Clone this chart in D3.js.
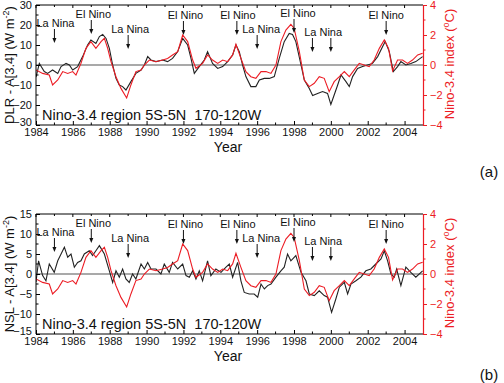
<!DOCTYPE html>
<html><head><meta charset="utf-8">
<script src="https://cdn.jsdelivr.net/npm/d3@7"></script>
<style>
body{margin:0;background:#fff}
svg{display:block}
text{font-family:"Liberation Sans",Arial,sans-serif}
</style></head>
<body><svg id="chart" width="504" height="383"></svg>
<script>
// ---------------- DATA ----------------
const xTicks = [1984,1986,1988,1990,1992,1994,1996,1998,2000,2002,2004];
const leftTicksA = [-30,-20,-10,0,10,20,30];
const leftTicksB = [-15,-10,-5,0,5,10,15];
const rightTicks = [-4,-2,0,2,4];

// DLR - A[3.4] (W m-2), panel (a)
const dlrSeries = [[1984.00,-6],[1984.18,0.8],[1984.45,-3.3],[1984.63,-4.2],[1984.90,-2.5],[1985.18,-4.2],[1985.36,-0.8],[1985.63,0.8],[1985.81,0],[1985.99,-2.5],[1986.26,-0.8],[1986.53,4.2],[1986.80,10],[1986.98,12.5],[1987.25,10.8],[1987.44,14.2],[1987.62,15.3],[1987.80,13.3],[1987.98,8.3],[1988.16,0],[1988.34,-6.7],[1988.52,-10],[1988.70,-10.8],[1988.88,-12.5],[1989.15,-8.3],[1989.42,-4.2],[1989.70,-2.5],[1989.88,0],[1990.06,4.2],[1990.24,2.5],[1990.51,1.7],[1990.87,2.5],[1991.14,1.7],[1991.41,3.3],[1991.69,6.7],[1991.96,13.3],[1992.23,10],[1992.41,3.3],[1992.59,-4.2],[1992.86,-0.8],[1993.13,2.5],[1993.31,6.7],[1993.58,0.8],[1993.86,-1.7],[1994.13,-0.8],[1994.40,1.7],[1994.67,5],[1994.85,10],[1995.03,6.7],[1995.21,0],[1995.39,-5.8],[1995.66,-10.8],[1995.93,-10.8],[1996.12,-7.5],[1996.39,-6.7],[1996.66,-6.7],[1996.93,-5.8],[1997.20,3.3],[1997.47,11.7],[1997.74,15.8],[1997.92,15.3],[1998.10,11.7],[1998.38,0],[1998.56,-7.5],[1998.83,-11.7],[1999.01,-15.3],[1999.28,-14.2],[1999.55,-13.3],[1999.82,-14.2],[2000.00,-19.7],[2000.18,-15],[2000.37,-10],[2000.55,-5],[2000.82,-8.3],[2001.00,-10.8],[2001.18,-5.8],[2001.45,-1.7],[2001.72,-0.8],[2001.99,0],[2002.26,0.8],[2002.54,4.2],[2002.81,9.2],[2002.95,11.7],[2003.17,6.7],[2003.39,-3.3],[2003.62,-0.8],[2003.80,1.7],[2004.07,0],[2004.34,0.8],[2004.61,1.7],[2004.98,4.2]];

// NSL - A[3.4] (W m-2), panel (b)
const nslSeries = [[1984.00,-2],[1984.14,3.3],[1984.36,-0.4],[1984.54,-1.7],[1984.72,2.5],[1984.99,0.4],[1985.18,3.3],[1985.36,5],[1985.54,6.7],[1985.72,4.2],[1985.90,5],[1986.08,1.7],[1986.26,2.9],[1986.44,3.3],[1986.62,5],[1986.89,5.8],[1987.07,4.6],[1987.25,5.8],[1987.44,7.1],[1987.71,5],[1987.98,0.8],[1988.16,-2.1],[1988.34,0.8],[1988.52,-0.8],[1988.70,1.25],[1988.88,-1.25],[1989.06,-2.1],[1989.24,0],[1989.42,-1.25],[1989.70,2.5],[1989.88,1.25],[1990.06,2.9],[1990.24,1.25],[1990.51,1.25],[1990.78,0],[1990.96,2.5],[1991.23,0.4],[1991.41,2.9],[1991.69,1.25],[1991.96,2.5],[1992.14,-0.4],[1992.32,-0.8],[1992.50,0.8],[1992.68,-1.25],[1992.86,0.8],[1993.04,-1.7],[1993.31,3.3],[1993.49,-0.4],[1993.76,1.25],[1994.04,0.4],[1994.31,1.7],[1994.49,2.5],[1994.67,-0.8],[1994.94,2.9],[1995.12,-1.7],[1995.30,-4.6],[1995.57,-5],[1995.84,-5],[1996.03,-5.8],[1996.21,-2.5],[1996.39,-3.75],[1996.57,-2.9],[1996.75,-2.5],[1997.02,-0.8],[1997.29,0.8],[1997.47,1.7],[1997.65,5],[1997.83,3.3],[1998.10,4.6],[1998.38,0.4],[1998.65,-1.7],[1998.83,-5],[1999.10,-5.4],[1999.37,-4.2],[1999.64,-5.4],[1999.82,-5.8],[2000.04,-9.6],[2000.27,-6.25],[2000.46,-3.3],[2000.73,-2.1],[2000.91,-5],[2001.09,-2.5],[2001.36,-1.7],[2001.63,-0.8],[2001.90,0.8],[2002.17,1.25],[2002.44,2.5],[2002.72,3.75],[2002.90,5.8],[2003.08,3.3],[2003.26,0],[2003.44,-0.8],[2003.57,1.25],[2003.80,-2.9],[2004.07,1.7],[2004.34,0.4],[2004.61,-0.8],[2004.98,0.8]];

// Nino-3.4 index (deg C), both panels
const nino34 = [[1984.00,-0.33],[1984.36,-0.56],[1984.72,-0.67],[1984.90,-1.33],[1985.18,-1.0],[1985.45,-0.44],[1985.72,-0.56],[1985.99,-0.44],[1986.17,-0.67],[1986.44,0.11],[1986.71,1.11],[1986.98,1.56],[1987.25,1.11],[1987.53,1.56],[1987.71,1.78],[1987.89,1.11],[1988.07,0.22],[1988.34,-0.78],[1988.61,-1.56],[1988.92,-2.2],[1989.15,-1.33],[1989.42,-0.44],[1989.70,-0.33],[1989.88,0],[1990.15,0.33],[1990.51,0.22],[1990.87,0.33],[1991.14,0.44],[1991.41,0.67],[1991.69,0.89],[1991.96,2.0],[1992.23,1.56],[1992.50,0.33],[1992.68,-0.22],[1993.04,0.11],[1993.31,0.67],[1993.58,0.33],[1993.86,0.11],[1994.13,0.33],[1994.40,0.22],[1994.67,0.67],[1994.85,1.38],[1995.12,0.44],[1995.39,-0.44],[1995.66,-0.78],[1995.93,-0.89],[1996.21,-0.44],[1996.48,-0.44],[1996.75,-0.56],[1997.02,0],[1997.29,1.56],[1997.56,2.33],[1997.83,2.71],[1998.01,2.44],[1998.29,0.89],[1998.56,-1.0],[1998.83,-1.44],[1999.10,-1.22],[1999.37,-0.78],[1999.64,-0.89],[1999.91,-1.78],[2000.18,-1.11],[2000.46,-0.78],[2000.73,-0.44],[2001.00,-0.78],[2001.27,-0.33],[2001.54,0.11],[2001.81,0],[2002.08,-0.11],[2002.35,0.33],[2002.63,1.11],[2002.90,1.67],[2003.13,1.11],[2003.35,-0.4],[2003.62,0.33],[2003.89,0.33],[2004.16,0.11],[2004.43,0.33],[2004.71,0.67],[2004.98,0.78]];

const annoLabels = ["La Nina","El Nino","La Nina","El Nino","El Nino","La Nina","El Nino","La Nina","El Nino"];
const annoYears = [[1985],[1987],[1989],[1992],[1994.9],[1996],[1998],[1999,2000],[2003]];

// ---------------- LAYOUT / STYLE ----------------
const annoTextY = [18,9,24,10,10,24,8,27,10];
const annoTextDx = [1,2,2,2,1,4,4,1.5,0];
const RED = "#ec1c24";
const panels = [
  {top:5, left:36, right:423, h:120, series:dlrSeries, domain:[-30,30], ticks:leftTicksA, minor:5,
   title:"DLR - A[3.4] (W m", tag:"(a)", tagY:177},
  {top:214, left:36, right:423, h:120, series:nslSeries, domain:[-15,15], ticks:leftTicksB, minor:2.5,
   title:"NSL - A[3.4] (W m", tag:"(b)", tagY:380}
];

const svg = d3.select("#chart");

panels.forEach((p,pi)=>{
  const x = d3.scaleLinear().domain([1984,2005]).range([p.left,p.right]);
  const y = d3.scaleLinear().domain(p.domain).range([p.top+p.h,p.top]);
  const yr = d3.scaleLinear().domain([-4,4]).range([p.top+p.h,p.top]);
  const g = svg.append("g");
  const clipId = "clip"+pi;
  svg.append("clipPath").attr("id",clipId).append("rect")
    .attr("x",p.left).attr("y",p.top).attr("width",p.right-p.left).attr("height",p.h);

  // zero line
  g.append("line").attr("x1",p.left).attr("x2",p.right).attr("y1",y(0)).attr("y2",y(0))
    .attr("stroke","#555").attr("stroke-width",1.1);

  // series
  const lineL = d3.line().x(d=>x(d[0])).y(d=>y(d[1]));
  const lineR = d3.line().x(d=>x(d[0])).y(d=>yr(d[1]));
  g.append("path").datum(p.series).attr("d",lineL).attr("fill","none")
    .attr("stroke","#222").attr("stroke-width",1.1).attr("clip-path",`url(#${clipId})`);
  g.append("path").datum(nino34).attr("d",lineR).attr("fill","none")
    .attr("stroke",RED).attr("stroke-width",1.1).attr("clip-path",`url(#${clipId})`);

  // frame: top, left, bottom black
  g.append("line").attr("x1",p.left).attr("x2",p.right).attr("y1",p.top).attr("y2",p.top).attr("stroke","#000");
  g.append("line").attr("x1",p.left).attr("x2",p.right).attr("y1",p.top+p.h).attr("y2",p.top+p.h).attr("stroke","#000");
  g.append("line").attr("x1",p.left).attr("x2",p.left).attr("y1",p.top).attr("y2",p.top+p.h).attr("stroke","#000");

  // bottom axis
  const xAxis = d3.axisBottom(x).tickValues(xTicks).tickFormat(d3.format("d")).tickSize(-4).tickPadding(3);
  const ax = g.append("g").attr("transform",`translate(0,${p.top+p.h})`).call(xAxis);
  ax.select(".domain").remove();
  ax.selectAll("text").attr("font-size",11).attr("font-family","Liberation Sans, Arial").attr("fill","#111");
  const minorYears = d3.range(1985,2005,2);
  g.selectAll(null).data(minorYears).enter().append("line")
    .attr("x1",d=>x(d)).attr("x2",d=>x(d)).attr("y1",p.top+p.h).attr("y2",p.top+p.h-2.5).attr("stroke","#000");
  // top ticks
  g.selectAll(null).data(d3.range(1984,2005)).enter().append("line")
    .attr("x1",d=>x(d)).attr("x2",d=>x(d)).attr("y1",p.top).attr("y2",d=>p.top+((d%2===0)?3:2)).attr("stroke","#000");

  // left axis
  const yAxis = d3.axisLeft(y).tickValues(p.ticks).tickSize(-4).tickPadding(4);
  const ay = g.append("g").attr("transform",`translate(${p.left},0)`).call(yAxis);
  ay.select(".domain").remove();
  ay.selectAll("text").attr("font-size",11).attr("font-family","Liberation Sans, Arial").attr("fill","#111")
    .attr("dy",d=>d===p.domain[0]?"0.0em":"0.32em");
  const minorL = d3.range(p.domain[0], p.domain[1]+0.001, p.minor).filter(v=>!p.ticks.includes(v));
  g.selectAll(null).data(minorL).enter().append("line")
    .attr("x1",p.left).attr("x2",p.left+2.5).attr("y1",d=>y(d)).attr("y2",d=>y(d)).attr("stroke","#000");

  // right axis (red)
  const rAxis = d3.axisRight(yr).tickValues(rightTicks).tickSize(4).tickPadding(3);
  const ar = g.append("g").attr("transform",`translate(${p.right},0)`).call(rAxis);
  ar.select(".domain").attr("stroke",RED).attr("stroke-width",1.2);
  ar.selectAll("line").attr("stroke",RED);
  ar.selectAll("text").attr("font-size",11).attr("font-family","Liberation Sans, Arial").attr("fill",RED);
  g.selectAll(null).data([-3,-1,1,3]).enter().append("line")
    .attr("x1",p.right).attr("x2",p.right+2.5).attr("y1",d=>yr(d)).attr("y2",d=>yr(d)).attr("stroke",RED);

  // region label
  g.append("text").attr("x",p.left+6).attr("y",p.top+p.h-5)
    .attr("font-size",14.5).attr("fill","#111").style("white-space","pre")
    .text("Nino-3.4 region 5S-5N\u00a0\u00a0170-120W");

  // Year label
  g.append("text").attr("x",228).attr("y",p.top+p.h+27).attr("text-anchor","middle")
    .attr("font-size",14).attr("fill","#111").text("Year");

  // left title
  const lt = g.append("text").attr("transform",`translate(14,${p.top+p.h/2}) rotate(-90)`)
    .attr("text-anchor","middle").attr("font-size",13).attr("fill","#111");
  lt.append("tspan").text(p.title);
  lt.append("tspan").attr("dy",-5).attr("font-size",9).text("-2");
  lt.append("tspan").attr("dy",5).text(")");

  // right title
  const rt = g.append("text").attr("transform",`translate(454,${p.top+p.h/2-1}) rotate(-90)`)
    .attr("text-anchor","middle").attr("font-size",13).attr("fill",RED);
  rt.append("tspan").text("Nino-3.4 index (");
  rt.append("tspan").attr("dy",-5).attr("font-size",9).text("o");
  rt.append("tspan").attr("dy",5).text("C)");

  // annotations
  annoLabels.forEach((lab,i)=>{
    const xs = annoYears[i].map(v=>x(v));
    const cx = d3.mean(xs)+annoTextDx[i];
    const ty = p.top+annoTextY[i];
    g.append("text").attr("x",cx).attr("y",ty+4).attr("text-anchor","middle")
      .attr("font-size",11).attr("fill","#111").text(lab);
    xs.forEach(ax0=>{
      g.append("line").attr("x1",ax0).attr("x2",ax0).attr("y1",ty+6).attr("y2",ty+17)
        .attr("stroke","#111").attr("stroke-width",1);
      g.append("path").attr("d",`M${ax0-2},${ty+15} L${ax0+2},${ty+15} L${ax0},${ty+20} Z`).attr("fill","#111");
    });
  });

  // panel tag
  svg.append("text").attr("x",489).attr("y",p.tagY).attr("text-anchor","middle")
    .attr("font-family","Liberation Serif, Times New Roman, serif").attr("font-size",15).attr("fill","#111").text(p.tag);
});
</script></body></html>
